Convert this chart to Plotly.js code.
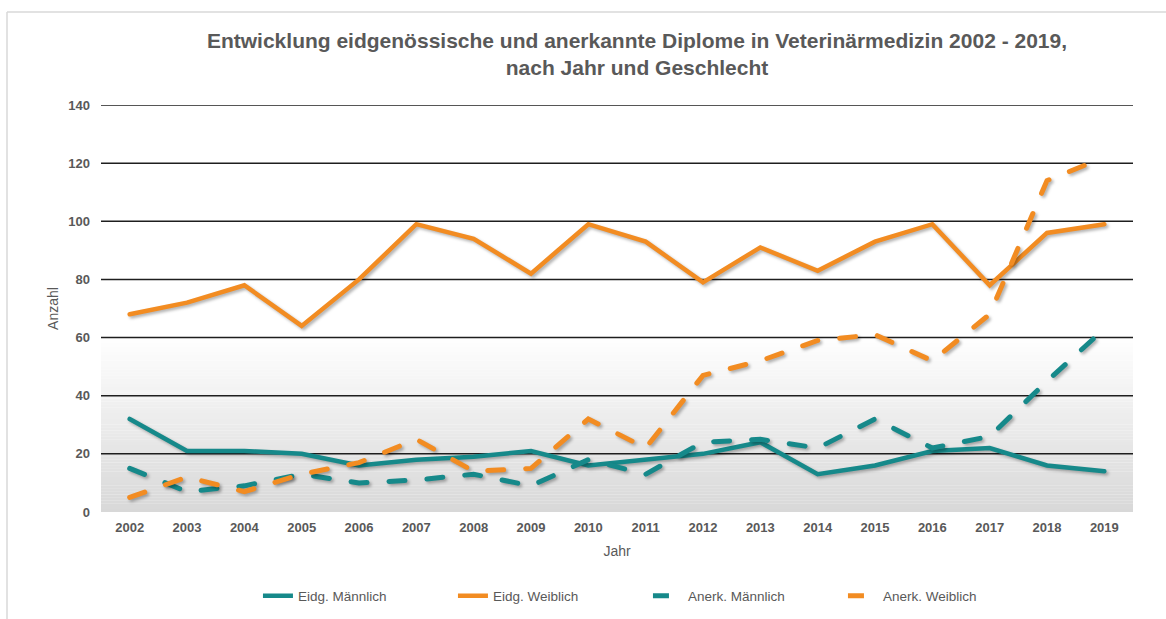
<!DOCTYPE html>
<html>
<head>
<meta charset="utf-8">
<script src="https://cdn.plot.ly/plotly-3.0.1.min.js"></script>
<style>
  html, body { margin: 0; padding: 0; background: #ffffff; }
  #chart { width: 1166px; height: 619px; }
  .scatterlayer path.js-line { stroke-linecap: round; filter: drop-shadow(2px 2px 1.5px rgba(0,0,0,0.3)); }
</style>
</head>
<body>
<div id="chart"></div>
<script>
const years = ['2002','2003','2004','2005','2006','2007','2008','2009','2010','2011','2012','2013','2014','2015','2016','2017','2018','2019'];
const eidgMaennlich = [32, 21, 21, 20, 16, 18, 19, 21, 16, 18, 20, 24, 13, 16, 21, 22, 16, 14];
const eidgWeiblich  = [68, 72, 78, 64, 80, 99, 94, 82, 99, 93, 79, 91, 83, 93, 99, 78, 96, 99];
const anerkMaennlich = [15, 7, 9, 13, 10, 11, 13, 9, 18, 13, 24, 25, 22, 32, 22, 26, 45, 63];
const anerkWeiblich  = [5, 12, 7, 13, 17, 25, 14, 15, 32, 22, 47, 52, 59, 61, 52, 68, 114, 122];
const seriesNames = ['Eidg. Männlich', 'Eidg. Weiblich', 'Anerk. Männlich', 'Anerk. Weiblich'];
const gridVals = [20, 40, 60, 80, 100, 120, 140];

const teal = '#16898a';
const orange = '#f28c22';

const traces = [
  {x: years, y: eidgMaennlich, name: seriesNames[0], type: 'scatter', mode: 'lines',
   line: {color: teal, width: 4.5}},
  {x: years, y: eidgWeiblich, name: seriesNames[1], type: 'scatter', mode: 'lines',
   line: {color: orange, width: 4.5}},
  {x: years, y: anerkMaennlich, name: seriesNames[2], type: 'scatter', mode: 'lines',
   line: {color: teal, width: 5, dash: '16px,22px'}},
  {x: years, y: anerkWeiblich, name: seriesNames[3], type: 'scatter', mode: 'lines',
   line: {color: orange, width: 5, dash: '16px,22px'}}
];

const shapes = [];
// background gradient from 0 to 60
const steps = 60;
for (let i = 0; i < steps; i++) {
  const t = i / steps;
  const c = Math.round(216 + (255 - 216) * t);
  shapes.push({type: 'rect', xref: 'paper', yref: 'y', x0: 0, x1: 1,
    y0: i * 60 / steps, y1: (i + 1) * 60 / steps + 0.05,
    fillcolor: 'rgb(' + c + ',' + c + ',' + c + ')', line: {width: 0}, layer: 'below'});
}
// grid lines
gridVals.forEach(v => {
  shapes.push({type: 'line', xref: 'paper', yref: 'y', x0: 0, x1: 1, y0: v, y1: v,
    line: {color: '#1e1e1e', width: 1.5}, layer: 'below'});
});
// outer border (top & left)
shapes.push({type: 'line', xref: 'paper', yref: 'paper', x0: -94/1032, x1: 1.05, y0: 1 + 93/407, y1: 1 + 93/407,
  line: {color: '#d9d9d9', width: 1.5}});
shapes.push({type: 'line', xref: 'paper', yref: 'paper', x0: -94/1032, x1: -94/1032, y0: 1 + 93/407, y1: -0.3,
  line: {color: '#d9d9d9', width: 1.5}});

const layout = {
  width: 1166, height: 619,
  margin: {l: 101, r: 33, t: 105, b: 107, autoexpand: false},
  paper_bgcolor: '#ffffff',
  plot_bgcolor: '#ffffff',
  font: {family: 'Liberation Sans, Arial, sans-serif', color: '#595959', size: 13},
  title: {
    text: '<b>Entwicklung eidgenössische und anerkannte Diplome in Veterinärmedizin 2002 - 2019,<br>nach Jahr und Geschlecht</b>',
    font: {size: 21, color: '#595959', family: 'Liberation Sans, Arial, sans-serif'},
    x: 637/1166, xanchor: 'center', y: 1 - 48/619, yanchor: 'middle'
  },
  xaxis: {
    type: 'category',
    range: [-0.5, 17.5],
    showgrid: false, zeroline: false, showline: false,
    ticks: '',
    ticklabelstandoff: 6,
    tickfont: {size: 13, color: '#595959', family: 'Liberation Sans, Arial, sans-serif', weight: 'bold'},
    title: {text: 'Jahr', font: {size: 14, color: '#595959'}, standoff: 12},
    fixedrange: true
  },
  yaxis: {
    range: [0, 140],
    tickvals: gridVals.concat([0]),
    showgrid: false, zeroline: false, showline: false,
    ticks: '',
    ticklabelstandoff: 10,
    tickfont: {size: 13, color: '#595959', family: 'Liberation Sans, Arial, sans-serif', weight: 'bold'},
    title: {text: 'Anzahl', font: {size: 14, color: '#595959'}, standoff: 6},
    fixedrange: true
  },
  legend: {
    orientation: 'h',
    x: 0.53, xanchor: 'center',
    y: -84/407, yanchor: 'middle',
    entrywidth: 150,
    font: {size: 13.5, color: '#595959'},
    bgcolor: 'rgba(0,0,0,0)'
  },
  shapes: shapes,
  showlegend: true
};

Plotly.newPlot('chart', traces, layout, {displayModeBar: false, staticPlot: true});
</script>
</body>
</html>
